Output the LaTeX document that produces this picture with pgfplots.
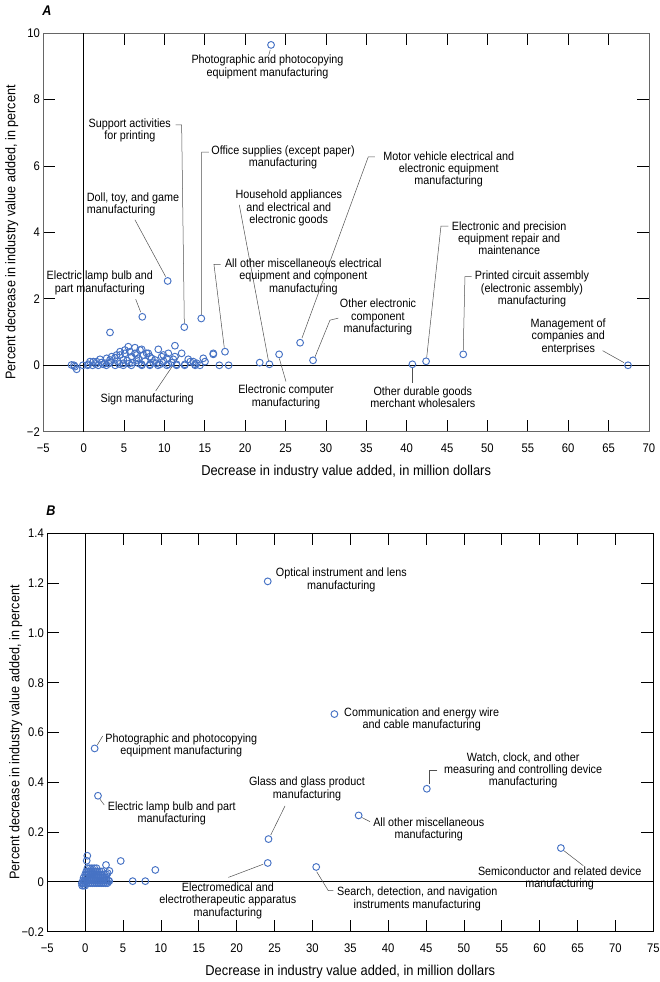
\documentclass[border=0pt]{standalone}
\usepackage{pgfplots}
\pgfplotsset{compat=1.18}
\usepackage{fontspec}
\setmainfont{Liberation Sans}[FakeStretch=0.9]
\definecolor{mk}{HTML}{4672C4}
\definecolor{ld}{HTML}{505050}
\newcommand{\ann}{\fontsize{12}{12.3}\selectfont}
\tikzset{ldr/.style={ld, line width=0.5pt}, lab/.style={align=center, font=\ann, inner sep=0pt}}
\pgfplotsset{
 myaxis/.style={
  scale only axis, height=398.4pt,
  axis line style={black!60, line width=0.9pt},
  tick align=inside, major tick length=12pt,
  tick style={black, line width=0.8pt},
  /pgf/number format/assume math mode=true,
  xticklabel style={font=\fontsize{12.5}{13}\selectfont, yshift=-9pt},
  yticklabel style={font=\fontsize{12.5}{13}\selectfont},
  xlabel style={font=\fontsize{14.3}{16}\selectfont, at={(axis description cs:0.5,-0.1)}, anchor=center},
  ylabel style={font=\fontsize{14}{16}\selectfont, at={(axis description cs:-0.052,0.5)}, anchor=center},
  clip=false,
 },
 pts/.style={only marks, mark=o, mark size=3.4pt, mark options={draw=mk, line width=0.95pt}},
 zl/.style={black, line width=0.9pt, no marks},
}
\begin{document}
\begin{tikzpicture}
\useasboundingbox (0,0) rectangle (660pt,982pt);
% ---------------- Panel A ----------------
\begin{axis}[myaxis, at={(43.3pt,550.3pt)}, anchor=south west, width=605.7pt,
  xmin=-5, xmax=70, ymin=-2, ymax=10,
  xtick={-5,0,5,10,15,20,25,30,35,40,45,50,55,60,65,70},
  xticklabels={−5,0,5,10,15,20,25,30,35,40,45,50,55,60,65,70},
  ytick={-2,0,2,4,6,8,10},
  yticklabels={−2,0,2,4,6,8,10},
  xlabel={Decrease in industry value added, in million dollars},
  ylabel={Percent decrease in industry value added, in percent}]
\addplot[zl] coordinates {(0,-2) (0,10)};
\addplot[zl] coordinates {(-5,0) (70,0)};
\addplot[pts] coordinates {
(-1.5,0.01) (-1.2,0.0) (-1.08,-0.04) (-0.87,-0.12) (-0.1,0.0) (0.5,0.0) (1.1,0.0) (1.8,0.0)
(2.8,0.0) (3.9,0.0) (4.9,0.0) (5.9,0.0) (7.2,0.0) (8.2,0.0) (9.2,0.0) (10.3,0.0)
(11.5,0.0) (12.5,0.0) (13.8,0.0) (14.4,0.0) (16.8,0.0) (17.95,0.0)
(0.57,0.03) (0.78,0.11) (1.6,0.11) (2.02,0.18) (2.64,0.06) (3.26,0.16) (3.88,0.23) (4.5,0.31)
(5.11,0.36) (5.73,0.41) (5.94,0.26) (6.56,0.31) (4.9,0.16) (5.52,0.56) (6.35,0.53) (1.19,0.11)
(2.85,0.21) (3.47,0.26) (4.08,0.31) (4.5,0.41) (5.1,0.46) (6.97,0.46) (6.35,0.36) (7.8,0.36)
(7.4,0.31) (8.2,0.26) (9.24,0.48) (9.86,0.31) (10.3,0.21) (11.1,0.18) (11.3,0.59) (12.13,0.36)
(13.2,0.11) (14.0,0.06) (14.81,0.21) (15.02,0.11) (16.05,0.36) (8.0,0.36) (10.48,0.36) (7.18,0.48)
(6.76,0.21) (8.42,0.21) (9.66,0.26) (11.3,0.26) (12.95,0.18) (13.57,0.11) (4.9,0.06) (6.56,0.16)
(8.83,0.16) (7.18,0.03) (8.2,0.03) (9.45,0.03) (10.48,0.03) (11.5,0.03) (12.54,0.03) (13.78,0.03)
(2.2,0.08) (3.3,0.1) (4.2,0.12) (5.4,0.14) (6.0,0.08) (7.6,0.12) (8.6,0.09) (9.9,0.12)
(10.9,0.08) (1.5,0.04) (2.4,0.03) (3.1,0.05) (4.4,0.04) (5.6,0.05) (6.8,0.06) (9.0,0.06)
(3.26,0.99) (7.26,1.46) (10.4,2.54) (12.46,1.15) (14.56,1.41) (17.5,0.41) (16.05,0.33)
(23.2,9.65) (26.8,0.68) (28.4,0.15) (24.2,0.33) (23.0,0.03) (21.8,0.08)
(40.7,0.03) (42.4,0.12) (47.0,0.33) (67.4,0.0)
};
% labels A
\node[lab] at (axis cs:22.76,8.99) {Photographic and photocopying\\equipment manufacturing};
\draw[ldr] (axis cs:23.1,9.5) -- (axis cs:22.9,9.32);
\node[lab] at (axis cs:5.71,7.07) {Support activities\\for printing};
\draw[ldr] (axis cs:11.39,7.24) -- (axis cs:12.13,7.24) -- (axis cs:12.46,1.27);
\node[lab] at (axis cs:24.68,6.26) {Office supplies (except paper)\\manufacturing};
\draw[ldr] (axis cs:15.51,6.42) -- (axis cs:14.61,6.42) -- (axis cs:14.59,1.52);
\node[lab, align=left, anchor=west] at (axis cs:0.37,4.84) {Doll, toy, and game\\manufacturing};
\draw[ldr] (axis cs:6.35,4.38) -- (axis cs:10.15,2.67);
\node[lab] at (axis cs:2.0,2.48) {Electric lamp bulb and\\part manufacturing};
\draw[ldr] (axis cs:6.44,1.99) -- (axis cs:7.06,1.6);
\node[lab] at (axis cs:25.4,4.74) {Household appliances\\and electrical and\\electronic goods};
\draw[ldr] (axis cs:19.27,4.83) -- (axis cs:22.9,0.11);
\node[lab] at (axis cs:27.2,2.67) {All other miscellaneous electrical\\equipment and component\\manufacturing};
\draw[ldr] (axis cs:16.96,3.04) -- (axis cs:16.13,3.04) -- (axis cs:17.41,0.53);
\node[lab] at (axis cs:45.2,5.9) {Motor vehicle electrical and\\electronic equipment\\manufacturing};
\draw[ldr] (axis cs:36.07,6.28) -- (axis cs:35.24,6.28) -- (axis cs:27.03,0.82);
\node[lab] at (axis cs:36.44,1.45) {Other electronic\\component\\manufacturing};
\draw[ldr] (axis cs:31.53,1.42) -- (axis cs:30.5,1.36) -- (axis cs:28.64,0.25);
\node[lab] at (axis cs:25.05,-0.95) {Electronic computer\\manufacturing};
\draw[ldr] (axis cs:25.05,-0.49) -- (axis cs:24.22,0.21);
\node[lab] at (axis cs:7.86,-1.02) {Sign manufacturing};
\draw[ldr] (axis cs:8.92,-0.77) -- (axis cs:11.92,0.31);
\node[lab] at (axis cs:41.99,-0.96) {Other durable goods\\merchant wholesalers};
\draw[ldr] (axis cs:40.74,-0.07) -- (axis cs:40.74,-0.54);
\node[lab] at (axis cs:52.69,3.83) {Electronic and precision\\equipment repair and\\maintenance};
\draw[ldr] (axis cs:45.15,4.19) -- (axis cs:44.24,4.19) -- (axis cs:42.47,0.23);
\node[lab] at (axis cs:55.51,2.30) {Printed circuit assembly\\(electronic assembly)\\manufacturing};
\draw[ldr] (axis cs:48.04,2.67) -- (axis cs:47.21,2.67) -- (axis cs:47.0,0.46);
\node[lab] at (axis cs:60.0,0.86) {Management of\\companies and\\enterprises};
\draw[ldr] (axis cs:64.26,0.44) -- (axis cs:66.9,0.08);
\node[font=\fontsize{14}{14}\selectfont\bfseries\itshape] at (axis description cs:0.006,1.056) {A};
\end{axis}
% ---------------- Panel B ----------------
\begin{axis}[myaxis, at={(47.3pt,50.3pt)}, anchor=south west, width=606pt,
  axis line style={black, line width=0.9pt},
  xmin=-5, xmax=75, ymin=-0.2, ymax=1.4,
  xtick={-5,0,5,10,15,20,25,30,35,40,45,50,55,60,65,70,75},
  xticklabels={−5,0,5,10,15,20,25,30,35,40,45,50,55,60,65,70,75},
  ytick={-0.2,0,0.2,0.4,0.6,0.8,1.0,1.2,1.4},
  yticklabels={−0.2,0,0.2,0.4,0.6,0.8,1.0,1.2,1.4},
  xlabel={Decrease in industry value added, in million dollars},
  ylabel={Percent decrease in industry value added, in percent}]
\addplot[zl] coordinates {(0,-0.2) (0,1.4)};
\addplot[zl] coordinates {(-5,0) (75,0)};
\addplot[pts] coordinates {
(-0.4,-0.015) (-0.2,-0.015) (0.0,-0.015)
(-0.45,-0.005) (-0.25,-0.005) (-0.05,-0.005) (0.2,-0.005) (0.45,-0.005) (0.7,-0.005) (0.95,-0.005) (1.2,-0.005)
(1.45,-0.005) (1.7,-0.005) (1.95,-0.005) (2.2,-0.005) (2.45,-0.005) (2.7,-0.005) (2.95,-0.005)
(-0.3,0.005) (-0.1,0.005) (0.1,0.005) (0.35,0.005) (0.6,0.005) (0.85,0.005) (1.1,0.005) (1.35,0.005)
(1.6,0.005) (1.85,0.005) (2.1,0.005) (2.35,0.005) (2.6,0.005) (2.85,0.005) (3.1,0.005)
(-0.2,0.017) (0.05,0.017) (0.3,0.017) (0.55,0.017) (0.8,0.017) (1.05,0.017) (1.3,0.017) (1.55,0.017)
(1.8,0.017) (2.05,0.017) (2.3,0.017) (2.55,0.017) (2.8,0.017)
(0.0,0.03) (0.25,0.03) (0.5,0.03) (0.75,0.03) (1.0,0.03) (1.25,0.03) (1.5,0.03) (1.75,0.03)
(2.0,0.03) (2.25,0.03) (2.5,0.03) (2.8,0.03)
(0.15,0.042) (0.4,0.042) (0.65,0.042) (0.9,0.042) (1.15,0.042) (1.4,0.042) (1.65,0.042) (1.9,0.042) (2.2,0.042)
(0.3,0.055) (0.6,0.055) (0.9,0.055) (1.2,0.055) (1.5,0.055)
(2.75,0.068) (3.2,0.044) (2.97,0.035) (3.18,0.003) (0.28,0.105) (0.2,0.085) (4.69,0.084) (9.26,0.048)
(6.27,0.003) (7.94,0.003)
(24.1,1.207) (1.25,0.536) (1.69,0.346) (24.2,0.172) (24.1,0.076) (30.5,0.06)
(32.9,0.674) (45.1,0.374) (36.1,0.267) (62.8,0.136)
};
\node[lab] at (axis cs:33.81,1.213) {Optical instrument and lens\\manufacturing};
\node[lab] at (axis cs:44.42,0.653) {Communication and energy wire\\and cable manufacturing};
\node[lab] at (axis cs:12.69,0.548) {Photographic and photocopying\\equipment manufacturing};
\draw[ldr] (axis cs:2.31,0.586) -- (axis cs:1.6,0.55);
\node[lab] at (axis cs:11.43,0.275) {Electric lamp bulb and part\\manufacturing};
\draw[ldr] (axis cs:1.95,0.332) -- (axis cs:2.52,0.309);
\node[lab] at (axis cs:29.28,0.374) {Glass and glass product\\manufacturing};
\draw[ldr] (axis cs:26.38,0.305) -- (axis cs:24.49,0.188);
\node[lab] at (axis cs:18.84,-0.0755) {Electromedical and\\electrotherapeutic apparatus\\manufacturing};
\draw[ldr] (axis cs:18.9,0.018) -- (axis cs:23.5,0.071);
\node[lab] at (axis cs:43.84,-0.068) {Search, detection, and navigation\\instruments manufacturing};
\draw[ldr] (axis cs:30.56,0.041) -- (axis cs:32.09,-0.035) -- (axis cs:32.75,-0.035);
\node[lab] at (axis cs:57.82,0.447) {Watch, clock, and other\\measuring and controlling device\\manufacturing};
\draw[ldr] (axis cs:46.48,0.447) -- (axis cs:45.43,0.447) -- (axis cs:45.43,0.392);
\node[lab] at (axis cs:45.36,0.211) {All other miscellaneous\\manufacturing};
\draw[ldr] (axis cs:36.5,0.259) -- (axis cs:37.6,0.242);
\node[lab] at (axis cs:62.64,0.014) {Semiconductor and related device\\manufacturing};
\draw[ldr] (axis cs:63.21,0.125) -- (axis cs:65.76,0.065);
\node[font=\fontsize{14}{14}\selectfont\bfseries\itshape] at (axis description cs:0.006,1.058) {B};
\end{axis}
\end{tikzpicture}
\end{document}
